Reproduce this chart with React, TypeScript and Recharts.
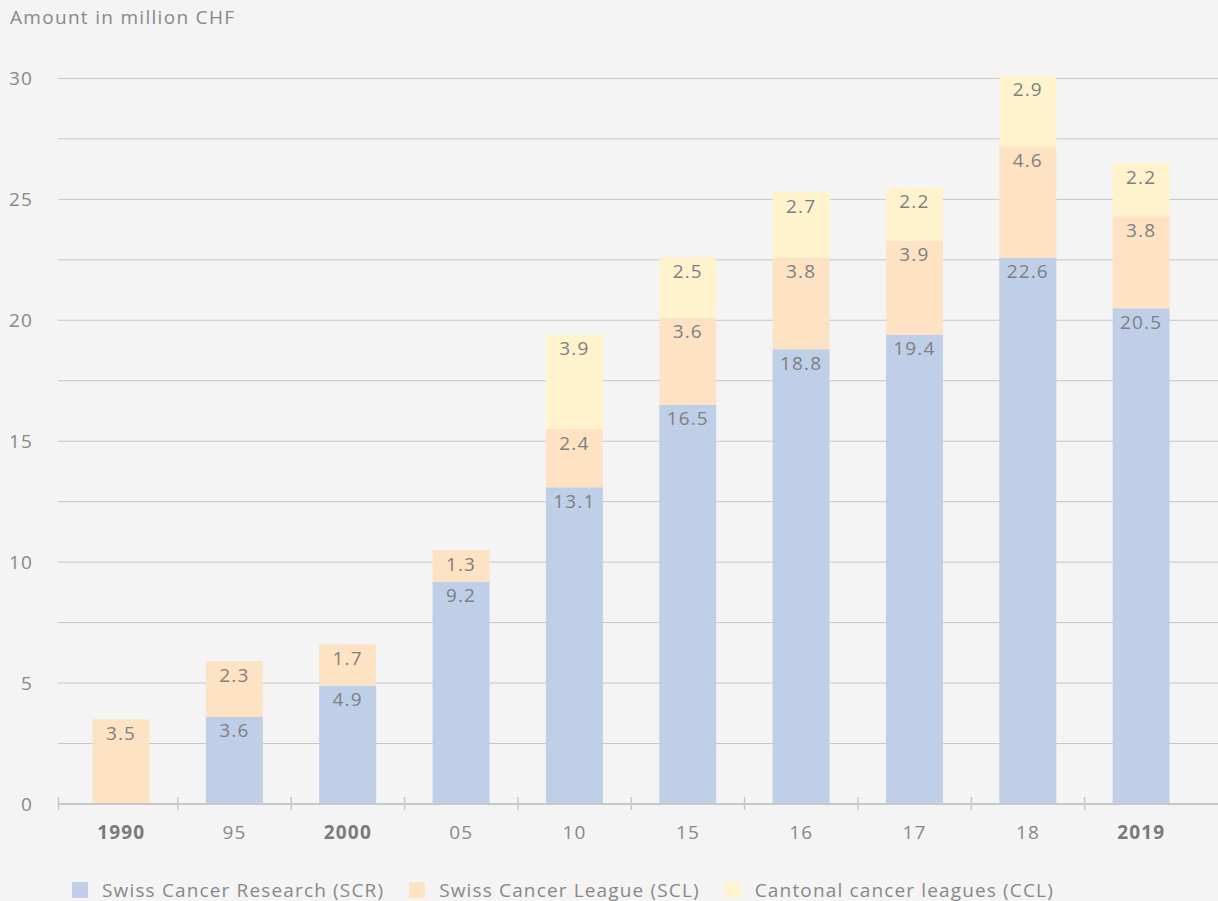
import { BarChart, Bar, XAxis, YAxis, CartesianGrid, Legend, LabelList } from 'recharts';

const years = ['1990', '95', '2000', '05', '10', '15', '16', '17', '18', '2019'];
const boldYears = ['1990', '2000', '2019'];
const scr = [null, 3.6, 4.9, 9.2, 13.1, 16.5, 18.8, 19.4, 22.6, 20.5];
const scl = [3.5, 2.3, 1.7, 1.3, 2.4, 3.6, 3.8, 3.9, 4.6, 3.8];
const ccl = [null, null, null, null, 3.9, 2.5, 2.7, 2.2, 2.9, 2.2];
const yTicks = [0, 2.5, 5, 7.5, 10, 12.5, 15, 17.5, 20, 22.5, 25, 27.5, 30];

const series = [
  { key: 'scr', name: 'Swiss Cancer Research (SCR)', color: '#bfcfe8' },
  { key: 'scl', name: 'Swiss Cancer League (SCL)', color: '#fde3c4' },
  { key: 'ccl', name: 'Cantonal cancer leagues (CCL)', color: '#fef3cd' },
];

const chartData = years.map((y, i) => ({ year: y, scr: scr[i], scl: scl[i], ccl: ccl[i] }));

const FONT = '"Open Sans", "Noto Sans", sans-serif';
const SPACING = 1.15;
const HALF_BAND = 56.7;

function YearTick(props: any) {
  const { x, y, payload, index } = props;
  const bold = boldYears.includes(payload.value);
  return (
    <g>
      {index === 0 && <line x1={x - HALF_BAND - 6} x2={x - HALF_BAND - 6} y1={y - 7} y2={y + 6} stroke="#c8c8c8" strokeWidth={1.5} />}
      {index < years.length - 1 && <line x1={x + HALF_BAND} x2={x + HALF_BAND} y1={y - 7} y2={y + 6} stroke="#c8c8c8" strokeWidth={1.5} />}
      <text x={x} y={y + 35} textAnchor="middle" fill={bold ? '#7a7a7a' : '#888'} fontSize={19} fontWeight={bold ? 700 : 400} fontFamily={FONT} letterSpacing={SPACING}>
        {payload.value}
      </text>
    </g>
  );
}

function LegendContent() {
  return (
    <div style={{ display: 'flex', paddingLeft: 72, paddingTop: 17, height: 40, boxSizing: 'border-box', fontFamily: FONT }}>
      {series.map((s) => (
        <div key={s.key} style={{ display: 'flex', alignItems: 'center', marginRight: 25 }}>
          <span style={{ width: 16, height: 16, background: s.color, display: 'inline-block', marginRight: 14 }} />
          <span style={{ color: '#888', fontSize: 19, lineHeight: '16px', letterSpacing: SPACING }}>{s.name}</span>
        </div>
      ))}
    </div>
  );
}

export default function App() {
  return (
    <div style={{ position: 'absolute', left: 0, top: 0, width: 1218, height: 901, background: '#f4f4f4', overflow: 'hidden' }}>
      <div style={{ position: 'absolute', left: 10, top: 5, fontFamily: FONT, fontSize: 19, color: '#888', lineHeight: '24px', letterSpacing: 1.3 }}>
        Amount in million CHF
      </div>
      <BarChart width={1218} height={901} data={chartData} margin={{ top: 76, right: 0, bottom: 0, left: 0 }} barSize={57}>
        <CartesianGrid vertical={false} stroke="#c6c6c6" horizontalValues={yTicks} />
        <XAxis
          dataKey="year"
          height={57}
          padding={{ left: 6.5, right: 20 }}
          axisLine={{ stroke: '#c8c8c8', strokeWidth: 2 }}
          tickLine={false}
          tickSize={0}
          tickMargin={0}
          interval={0}
          tick={<YearTick />}
        />
        <YAxis
          width={58}
          domain={[0, 30.1]}
          ticks={yTicks}
          interval={0}
          axisLine={false}
          tickLine={false}
          tickSize={0}
          tickMargin={25}
          tickFormatter={(v: number) => (v % 5 === 0 ? String(v) : '')}
          tick={{ fill: '#888', fontSize: 19, fontFamily: FONT, letterSpacing: SPACING }}
        />
        <Legend verticalAlign="bottom" align="left" content={<LegendContent />} />
        {series.map((s) => (
          <Bar key={s.key} dataKey={s.key} name={s.name} stackId="a" fill={s.color} isAnimationActive={false}>
            <LabelList
              dataKey={s.key}
              position="insideTop"
              offset={7}
              fill="#808080"
              fontSize={19}
              fontFamily={FONT}
              letterSpacing={SPACING}
              formatter={(v: any) => (v == null ? '' : Number(v).toFixed(1))}
            />
          </Bar>
        ))}
      </BarChart>
    </div>
  );
}
